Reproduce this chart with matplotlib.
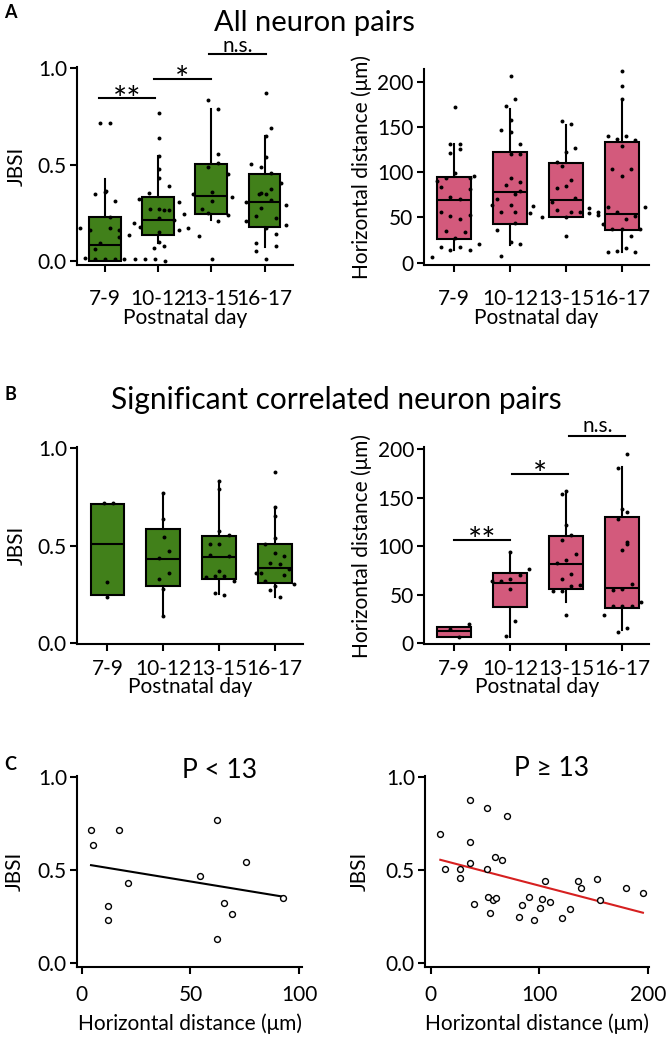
import numpy as np
import matplotlib
matplotlib.use("Agg")
import matplotlib.pyplot as plt

plt.rcParams['font.family'] = ['Lato', 'DejaVu Sans']

# ---------------- data ----------------
groups = ["7-9", "10-12", "13-15", "16-17"]

# Panel A – all neuron pairs, JBSI box stats (q1, median, q3, whisker low, whisker high)
a_jbsi_q1 = [0.0, 0.135, 0.246, 0.178]
a_jbsi_med = [0.083, 0.211, 0.337, 0.304]
a_jbsi_q3 = [0.227, 0.332, 0.502, 0.452]
a_jbsi_lo = [0.0, 0.093, 0.213, 0.071]
a_jbsi_hi = [0.426, 0.547, 0.789, 0.649]
a_jbsi_pts = [
    [0.173, 0.017, 0.161, 0.348, 0.718, 0.718, 0.356, 0.364, 0.31, 0.23, 0.173, 0.161, 0.123, 0.092, 0.061, 0.010, 0.010, 0.010, 0.010, 0.137],
    [0.322, 0.199, 0.176, 0.01, 0.01, 0.355, 0.268, 0.069, 0.77, 0.637, 0.545, 0.476, 0.433, 0.268, 0.221, 0.149, 0.1, 0.01, 0.0, 0.265, 0.265, 0.078, 0.389, 0.213, 0.308, 0.161, 0.242],
    [0.173, 0.346, 0.130, 0.268, 0.49, 0.836, 0.247, 0.36, 0.313, 0.01, 0.787, 0.554, 0.507, 0.208, 0.45, 0.239, 0.334],
    [0.208, 0.304, 0.502, 0.234, 0.054, 0.092, 0.49, 0.355, 0.273, 0.875, 0.692, 0.649, 0.541, 0.346, 0.170, 0.01, 0.455, 0.374, 0.317, 0.221, 0.138, 0.080, 0.403, 0.291, 0.187, 0.346],
]
a_jbsi_jit = [
    [-0.47, -0.37, -0.28, -0.19, -0.09, 0.10, 0.0, 0.01, 0.18, 0.09, 0.09, 0.26, 0.26, -0.09, -0.18, 0.0, 0.19, 0.36, -0.18, 0.45],
    [-0.36, -0.45, -0.35, -0.43, -0.25, -0.17, -0.16, -0.07, 0.02, 0.02, 0.02, 0.02, 0.02, 0.02, 0.02, 0.02, 0.02, -0.06, 0.13, 0.11, 0.21, 0.11, 0.21, 0.29, 0.39, 0.39, 0.48],
    [-0.43, -0.35, -0.24, -0.17, -0.07, -0.07, -0.07, 0.02, 0.02, 0.01, 0.12, 0.12, 0.12, 0.12, 0.31, 0.31, 0.39],
    [-0.35, -0.35, -0.26, -0.16, -0.16, -0.16, -0.07, -0.07, -0.07, 0.03, 0.12, 0.03, 0.03, 0.03, 0.03, 0.03, 0.12, 0.12, 0.12, 0.21, 0.21, 0.21, 0.31, 0.40, 0.40, -0.11],
]

# Panel A – horizontal distance (µm)
a_dist_q1 = [25.8, 42.8, 50.9, 36.2]
a_dist_med = [69.0, 77.9, 69.7, 54.2]
a_dist_q3 = [95.2, 122.9, 110.0, 133.2]
a_dist_lo = [14.0, 19.6, 50.9, 12.2]
a_dist_hi = [131.4, 169.7, 152.4, 180.8]
a_dist_pts = [
    [6.3, 90.4, 17.7, 83.4, 55.7, 35.4, 93.4, 73.1, 51.7, 14.0, 171.6, 131.4, 131.4, 125.8, 121, 99.6, 27.7, 70.8, 48.7, 17.7, 33.9, 93.4, 81.5, 52.8, 14.0, 96.3, 20.3],
    [64.2, 70.1, 36.2, 7.4, 146.9, 55.7, 172.7, 205.9, 157.9, 144.3, 119.9, 93.4, 63.8, 23.2, 86, 181.2, 75.6, 56.1, 44.3, 131.4, 119.9, 89.7, 79.3, 20.3, 54.6, 62.7],
    [50.9, 67.5, 82.3, 58.3, 107, 156.5, 122.1, 85.2, 50.9, 29.2, 153.1, 91.5, 55.7, 127.3, 71.2, 55.7, 60.9, 54.6, 111],
    [55.7, 52.8, 42.4, 139.5, 61.3, 12.2, 103.7, 37.3, 136.5, 13.3, 55.7, 212.2, 195.6, 181.2, 129.5, 96.3, 37.3, 139.5, 48, 15.9, 103.3, 29.5, 135.8, 52, 11.4, 37.3, 61.3],
]
a_dist_jit = [
    [-0.40, -0.31, -0.23, -0.23, -0.23, -0.14, -0.14, -0.07, -0.07, -0.07, 0.02, -0.07, 0.10, 0.10, -0.07, 0.02, 0.02, 0.10, 0.10, 0.10, 0.19, 0.28, 0.28, 0.28, 0.28, 0.35, 0.44],
    [-0.33, -0.24, -0.24, -0.16, -0.16, -0.16, -0.07, 0.01, 0.01, 0.01, 0.01, 0.01, 0.01, 0.01, -0.07, 0.09, 0.09, 0.09, 0.09, 0.18, 0.18, 0.18, 0.18, 0.18, 0.35, 0.41],
    [-0.43, -0.26, -0.16, -0.16, -0.08, -0.08, 0.0, 0.0, 0.0, 0.0, 0.08, 0.08, 0.08, 0.16, 0.16, 0.25, 0.41, 0.41, -0.17],
    [-0.43, -0.43, -0.34, -0.26, -0.26, -0.26, -0.18, -0.18, -0.09, -0.09, -0.09, 0.0, 0.0, 0.0, 0.0, 0.0, 0.0, 0.07, 0.07, 0.07, 0.15, 0.15, 0.23, 0.23, 0.23, 0.32, 0.40],
]

# Panel B – significant correlated pairs, JBSI
b_jbsi_q1 = [0.246, 0.291, 0.328, 0.311]
b_jbsi_med = [0.511, 0.431, 0.441, 0.385]
b_jbsi_q3 = [0.715, 0.586, 0.550, 0.511]
b_jbsi_lo = [0.246, 0.140, 0.253, 0.239]
b_jbsi_hi = [0.715, 0.773, 0.834, 0.701]
b_jbsi_pts = [
    [0.718, 0.718, 0.315, 0.236],
    [0.769, 0.638, 0.277, 0.14, 0.544, 0.436, 0.328, 0.475, 0.359],
    [0.834, 0.791, 0.573, 0.508, 0.509, 0.453, 0.338, 0.347, 0.368, 0.347, 0.556, 0.448, 0.32, 0.256, 0.248],
    [0.877, 0.697, 0.655, 0.542, 0.465, 0.508, 0.359, 0.359, 0.321, 0.41, 0.407, 0.448, 0.35, 0.379, 0.304, 0.294, 0.274, 0.239],
]
b_jbsi_jit = [
    [-0.07, 0.10, 0.0, 0.0],
    [0.0, 0.0, 0.0, 0.0, 0.01, -0.07, -0.07, 0.10, 0.10],
    [0.0, 0.0, 0.0, 0.0, -0.16, -0.16, -0.24, -0.07, 0.0, 0.09, 0.17, 0.17, 0.26, -0.07, 0.09],
    [0.0, 0.0, 0.0, 0.0, 0.0, -0.17, -0.33, -0.25, -0.17, -0.08, 0.09, 0.16, 0.16, 0.26, 0.34, 0.0, -0.08, 0.09],
]

# Panel B – horizontal distance (µm)
b_dist_q1 = [6.2, 37.6, 56.4, 35.9]
b_dist_med = [13.0, 62.2, 81.4, 57.4]
b_dist_q3 = [16.4, 72.8, 110.1, 129.9]
b_dist_lo = [6.2, 6.2, 42.7, 13.7]
b_dist_hi = [16.4, 94.0, 153.8, 181.2]
b_dist_pts = [
    [15.0, 6.8, 19.5],
    [63.9, 63.9, 66.7, 55.7, 94.0, 7.9, 23.2, 70.1, 76.6],
    [54.0, 54.0, 82.7, 66.3, 106, 122.1, 156.6, 85.5, 29.1, 111.1, 58.8, 91.6, 71.8, 60.5, 153.8],
    [29.1, 55.4, 38.3, 128.2, 180.2, 138.5, 96.4, 56.4, 38.3, 15.4, 11.3, 194.9, 135.7, 104.3, 61.2, 38.3, 42.1, 102.6],
]
b_dist_jit = [
    [-0.08, 0.09, 0.26],
    [-0.33, -0.16, 0.0, 0.0, 0.0, -0.08, 0.08, 0.17, 0.34],
    [-0.24, -0.08, -0.16, -0.08, -0.08, 0.0, 0.0, 0.0, 0.0, 0.08, 0.08, 0.17, 0.08, 0.25, -0.08],
    [-0.33, -0.17, -0.17, -0.08, -0.08, 0.0, 0.0, 0.0, 0.0, 0.08, -0.08, 0.08, 0.08, 0.08, 0.17, 0.17, 0.33, 0.08],
]

# Panel C – scatter
c_young_dist = [4.3, 5.4, 17.2, 12.3, 12.3, 21.3, 54.4, 62.3, 65.4, 69.2, 62.3, 75.3, 92.3]
c_young_jbsi = [0.716, 0.635, 0.716, 0.306, 0.230, 0.432, 0.469, 0.770, 0.320, 0.263, 0.129, 0.541, 0.351]
c_old_dist = [8.9, 13.2, 26.7, 26.7, 35.9, 35.9, 35.9, 40.2, 51.8, 51.8, 52.8, 54.9, 57.4, 59.8, 59.2, 65.3,
              69.9, 81.0, 84.0, 90.2, 95.1, 100.9, 102.1, 104.9, 110.1, 121.2, 128.2, 135.3, 138.0, 153.1,
              156.1, 180.1, 195.4]
c_old_jbsi = [0.694, 0.504, 0.505, 0.457, 0.878, 0.653, 0.538, 0.315, 0.836, 0.504, 0.356, 0.266, 0.338, 0.347,
              0.572, 0.552, 0.791, 0.248, 0.309, 0.356, 0.230, 0.297, 0.342, 0.442, 0.329, 0.239, 0.288, 0.442,
              0.401, 0.450, 0.338, 0.401, 0.374]

# ---------------- style ----------------
GREEN = '#41801a'
PINK = '#d35a7c'
LW = 1.5
FS = 15

fig = plt.figure(figsize=(6.66, 10.39), dpi=100)


def style_axes(ax, xpad):
    for s in ['top', 'right']:
        ax.spines[s].set_visible(False)
    for s in ['left', 'bottom']:
        ax.spines[s].set_linewidth(LW)
    ax.tick_params(axis='both', width=LW, length=5, labelsize=FS, direction='out')
    ax.tick_params(axis='x', pad=xpad)
    ax.tick_params(axis='y', pad=2.5)


def boxpanel(ax, q1, med, q3, lo, hi, pts, jit, color):
    stats = []
    for i in range(len(groups)):
        stats.append(dict(q1=q1[i], med=med[i], q3=q3[i], whislo=lo[i], whishi=hi[i], fliers=[]))
    pos = np.arange(1, len(groups) + 1)
    ax.bxp(stats, positions=pos, widths=0.6, patch_artist=True, showcaps=False, showfliers=False,
           boxprops=dict(facecolor=color, edgecolor='black', linewidth=LW),
           medianprops=dict(color='black', linewidth=LW),
           whiskerprops=dict(color='black', linewidth=LW), zorder=2)
    for i, p in enumerate(pos):
        ax.scatter(p + np.array(jit[i]), pts[i], s=8, color='black', zorder=4, linewidths=0,
                   clip_on=False)
    ax.set_xticks(pos)
    ax.set_xticklabels(groups)


def sigbar(ax, x0, x1, y, text, ty):
    ax.plot([x0, x1], [y, y], color='black', lw=LW, clip_on=False)
    size = 24 if '*' in text else FS
    ax.text((x0 + x1) / 2, ty, text, ha='center', va='center', fontsize=size, clip_on=False)


# ---- Panel A left ----
ax = fig.add_axes([0.1161, 0.7449, 0.3234, 0.1909])
boxpanel(ax, a_jbsi_q1, a_jbsi_med, a_jbsi_q3, a_jbsi_lo, a_jbsi_hi, a_jbsi_pts, a_jbsi_jit, GREEN)
ax.set_xlim(0.48, 4.53)
ax.set_ylim(-0.021, 1.009)
ax.set_yticks([0.0, 0.5, 1.0])
ax.set_yticklabels(['0.0', '0.5', '1.0'])
style_axes(ax, 12.5)
ax.set_ylabel('JBSI', fontsize=FS)
ax.yaxis.set_label_coords(-0.234, 0.5)
ax.set_xlabel('Postnatal day', fontsize=FS, labelpad=-1)
sigbar(ax, 0.88, 1.94, 0.844, '**', 0.832)
sigbar(ax, 1.92, 2.99, 0.946, '*', 0.937)
sigbar(ax, 2.96, 4.03, 1.073, 'n.s.', 1.118)

# ---- Panel A right ----
ax = fig.add_axes([0.6362, 0.7449, 0.3383, 0.1886])
boxpanel(ax, a_dist_q1, a_dist_med, a_dist_q3, a_dist_lo, a_dist_hi, a_dist_pts, a_dist_jit, PINK)
ax.set_xlim(0.455, 4.48)
ax.set_ylim(-2.6, 214)
ax.set_yticks([0, 50, 100, 150, 200])
style_axes(ax, 12.5)
ax.set_ylabel('Horizontal distance (μm)', fontsize=FS)
ax.yaxis.set_label_coords(-0.231, 0.5)
ax.set_xlabel('Postnatal day', fontsize=FS, labelpad=-1)

# ---- Panel B left ----
ax = fig.add_axes([0.1161, 0.3802, 0.3384, 0.1893])
boxpanel(ax, b_jbsi_q1, b_jbsi_med, b_jbsi_q3, b_jbsi_lo, b_jbsi_hi, b_jbsi_pts, b_jbsi_jit, GREEN)
ax.set_xlim(0.46, 4.5)
ax.set_ylim(-0.004, 1.005)
ax.set_yticks([0.0, 0.5, 1.0])
ax.set_yticklabels(['0.0', '0.5', '1.0'])
style_axes(ax, 5.5)
ax.set_ylabel('JBSI', fontsize=FS)
ax.yaxis.set_label_coords(-0.223, 0.5)
ax.set_xlabel('Postnatal day', fontsize=FS, labelpad=-1)

# ---- Panel B right ----
ax = fig.add_axes([0.6371, 0.3802, 0.3374, 0.1893])
boxpanel(ax, b_dist_q1, b_dist_med, b_dist_q3, b_dist_lo, b_dist_hi, b_dist_pts, b_dist_jit, PINK)
ax.set_xlim(0.47, 4.48)
ax.set_ylim(-0.7, 202)
ax.set_yticks([0, 50, 100, 150, 200])
style_axes(ax, 5.5)
ax.set_ylabel('Horizontal distance (μm)', fontsize=FS)
ax.yaxis.set_label_coords(-0.234, 0.5)
ax.set_xlabel('Postnatal day', fontsize=FS, labelpad=-1)
sigbar(ax, 1.0, 2.0, 106.7, '**', 104.5)
sigbar(ax, 2.03, 3.04, 174.4, '*', 172.5)
sigbar(ax, 3.06, 4.06, 213.7, 'n.s.', 224)


# ---- Panel C ----
def scatterpanel(ax, x, y, color, xlim, xticks, title, tx, ty):
    ax.scatter(x, y, s=18, facecolors='white', edgecolors='black', linewidths=1.0, zorder=3)
    xa = np.array(x)
    slope, inter = np.polyfit(xa, np.array(y), 1)
    xs = np.array([xa.min(), xa.max()])
    ax.plot(xs, inter + slope * xs, color=color, lw=LW, zorder=2)
    ax.set_xlim(*xlim)
    ax.set_ylim(-0.022, 1.007)
    ax.set_xticks(xticks)
    ax.set_yticks([0.0, 0.5, 1.0])
    ax.set_yticklabels(['0.0', '0.5', '1.0'])
    style_axes(ax, 8.5)
    ax.set_ylabel('JBSI', fontsize=FS)
    ax.set_xlabel('Horizontal distance (μm)', fontsize=FS, labelpad=6)
    ax.text(tx, ty, title, transform=ax.transAxes, ha='center', va='center', fontsize=19)


ax = fig.add_axes([0.1161, 0.0696, 0.3369, 0.1835])
scatterpanel(ax, c_young_dist, c_young_jbsi, 'black', (-2, 101.1), [0, 50, 100], 'P < 13', 0.636, 1.031)
ax.yaxis.set_label_coords(-0.232, 0.5)

ax = fig.add_axes([0.6386, 0.0696, 0.3359, 0.1835])
scatterpanel(ax, c_old_dist, c_old_jbsi, '#d62020', (-4.9, 201), [0, 100, 200], 'P ≥ 13', 0.563, 1.04)
ax.yaxis.set_label_coords(-0.247, 0.5)

# ---- titles & panel letters ----
fig.text(314 / 666, 1 - 23 / 1039, 'All neuron pairs', ha='center', va='center', fontsize=21)
fig.text(336.5 / 666, 1 - 400 / 1039, 'Significant correlated neuron pairs', ha='center', va='center', fontsize=21.5)
for lab, yy in [('A', 12.7), ('B', 395), ('C', 764)]:
    fig.text(10 / 666, 1 - yy / 1039, lab, ha='center', va='center', fontsize=13, fontweight='bold')

fig.savefig('out.png', dpi=100)
